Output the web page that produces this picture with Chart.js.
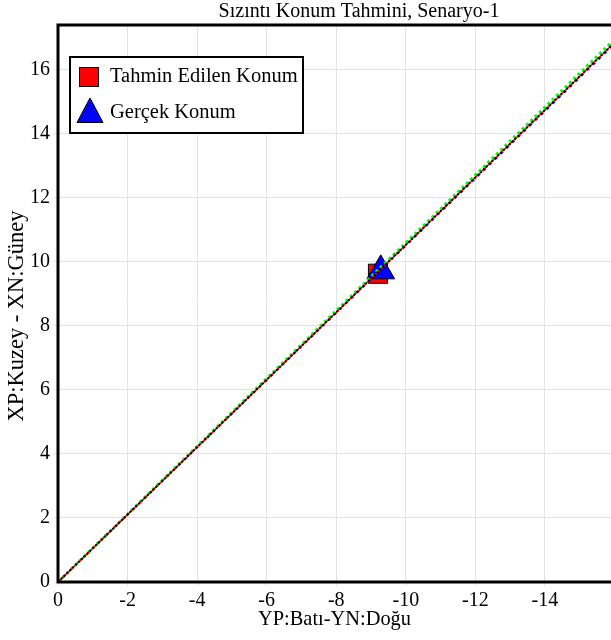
<!DOCTYPE html>
<html>
<head>
<meta charset="utf-8">
<script src="https://cdn.jsdelivr.net/npm/chart.js@4.4.0/dist/chart.umd.min.js"></script>
<style>
html, body { margin:0; padding:0; overflow:hidden; background:#fff; }
#wrap { width:611px; height:640px; }
</style>
</head>
<body>
<div id="wrap"><canvas id="myChart" width="611" height="640"></canvas></div>
<script>
//texts
var chartTitle = "Sızıntı Konum Tahmini, Senaryo-1";
var xTitle = "YP:Batı-YN:Doğu";
var yTitle = "XP:Kuzey - XN:Güney";
var legendLabels = ["Tahmin Edilen Konum", "Gerçek Konum"];

//axes (x runs from 0 to the right towards negative values)
var xMin = -15.9, xMax = 0;
var yMin = 0, yMax = 17.4;
var tickStep = 2;

//diagonal lines (start and end point)
var lineX = [0, -16];
var greenY = [0, 16.95];
var redY = [0, 16.85];
var blueY = [0, 16.8];
var blackY = [0, 16.85];

//markers
var estimateX = [-9.2];
var estimateY = [9.63];
var actualX = [-9.28];
var actualY = [9.72];

var fontFamily = "'Liberation Serif', 'Times New Roman', serif";
Chart.defaults.font.family = fontFamily;
Chart.defaults.color = '#000';

function toPoints(xs, ys){
	var pts = [];
	for(var i = 0; i < xs.length; i++){
		pts.push({x: xs[i], y: ys[i]});
	}
	return pts;
}

function lineSet(ys, color, width, dash){
	return {
		type: 'line',
		data: toPoints(lineX, ys),
		borderColor: color,
		borderWidth: width,
		borderDash: dash,
		pointRadius: 0,
		fill: false
	};
}

//chart title and y title drawn by hand, they sit off-center in the picture
var titlePlugin = {
	id: 'topTitle',
	afterDraw: function(chart){
		var ctx = chart.ctx;
		ctx.save();
		ctx.fillStyle = '#000';
		ctx.textAlign = 'center';
		ctx.textBaseline = 'middle';
		ctx.font = '20px ' + fontFamily;
		ctx.fillText(chartTitle, 359, 12);

		ctx.translate(17, 316);
		ctx.rotate(-Math.PI / 2);
		ctx.font = '22.5px ' + fontFamily;
		ctx.fillText(yTitle, 0, 0);
		ctx.restore();
	}
};

//thick frame: left, top and bottom (right side is cut by the picture)
var framePlugin = {
	id: 'frame',
	afterDatasetsDraw: function(chart){
		var a = chart.chartArea;
		var ctx = chart.ctx;
		ctx.save();
		ctx.strokeStyle = '#000';
		ctx.lineWidth = 3;
		ctx.beginPath();
		ctx.moveTo(chart.width, a.top);
		ctx.lineTo(a.left, a.top);
		ctx.lineTo(a.left, a.bottom);
		ctx.lineTo(chart.width, a.bottom);
		ctx.stroke();
		ctx.restore();
	}
};

//legend box inside the plot
var legendPlugin = {
	id: 'boxLegend',
	afterDraw: function(chart){
		var ctx = chart.ctx;
		ctx.save();
		ctx.fillStyle = '#fff';
		ctx.fillRect(70, 57, 233, 76);
		ctx.strokeStyle = '#000';
		ctx.lineWidth = 2;
		ctx.strokeRect(70, 57, 233, 76);

		ctx.lineWidth = 1;
		//square
		ctx.fillStyle = '#ff0000';
		ctx.fillRect(79, 67, 20, 20);
		ctx.strokeRect(79.5, 67.5, 19, 19);
		//triangle
		var cx = 90, cy = 113, r = 15;
		ctx.beginPath();
		ctx.moveTo(cx, cy - r);
		ctx.lineTo(cx + r * 0.866, cy + r / 2 + 2);
		ctx.lineTo(cx - r * 0.866, cy + r / 2 + 2);
		ctx.closePath();
		ctx.fillStyle = '#0000ff';
		ctx.fill();
		ctx.stroke();

		ctx.font = '20.5px ' + fontFamily;
		ctx.fillStyle = '#000';
		ctx.textAlign = 'left';
		ctx.textBaseline = 'middle';
		ctx.fillText(legendLabels[0], 110, 77);
		ctx.fillText(legendLabels[1], 110, 113);
		ctx.restore();
	}
};

var ctx = document.getElementById('myChart');

var myChart = new Chart(ctx, {
	type: 'scatter',
	data: {
		datasets: [
			lineSet(blackY, '#000000', 2, [2, 2]),
			lineSet(redY, '#ff0000', 1.5, []),
			lineSet(blueY, '#0000ff', 1.5, [3, 5]),
			lineSet(greenY, '#00ff00', 3, [3, 3]),
			{
				label: legendLabels[1],
				data: toPoints(actualX, actualY),
				pointStyle: 'triangle',
				pointRadius: 16,
				backgroundColor: '#0000ff',
				borderColor: '#000',
				borderWidth: 1
			},
			{
				label: legendLabels[0],
				data: toPoints(estimateX, estimateY),
				pointStyle: 'rect',
				pointRadius: 13.5,
				backgroundColor: '#ff0000',
				borderColor: '#000',
				borderWidth: 1
			}
		]
	},
	options: {
		responsive: false,
		animation: false,
		layout: { autoPadding: false, padding: { top: 25, right: 0, left: 0, bottom: 0 } },
		plugins: {
			legend: { display: false },
			tooltip: { enabled: false },
			title: { display: false }
		},
		scales: {
			x: {
				type: 'linear',
				reverse: true,
				min: xMin,
				max: xMax,
				afterFit: function(s){
					s.height = 58;
					s.paddingLeft = 0;
					s.paddingRight = 0;
				},
				ticks: { stepSize: tickStep, includeBounds: false, font: { size: 20 }, color: '#000', padding: 3, maxRotation: 0 },
				grid: { color: '#e3e3e3', tickLength: 4 },
				border: { display: false },
				title: { display: true, text: xTitle, font: { size: 20.4 }, color: '#000', padding: { top: 0, bottom: 8 } }
			},
			y: {
				type: 'linear',
				min: yMin,
				max: yMax,
				afterFit: function(s){ s.width = 58; },
				ticks: { stepSize: tickStep, includeBounds: false, font: { size: 20 }, color: '#000', padding: 4 },
				grid: { color: '#e3e3e3', tickLength: 4 },
				border: { display: false },
				title: { display: false }
			}
		}
	},
	plugins: [framePlugin, legendPlugin, titlePlugin]
});
</script>
</body>
</html>
